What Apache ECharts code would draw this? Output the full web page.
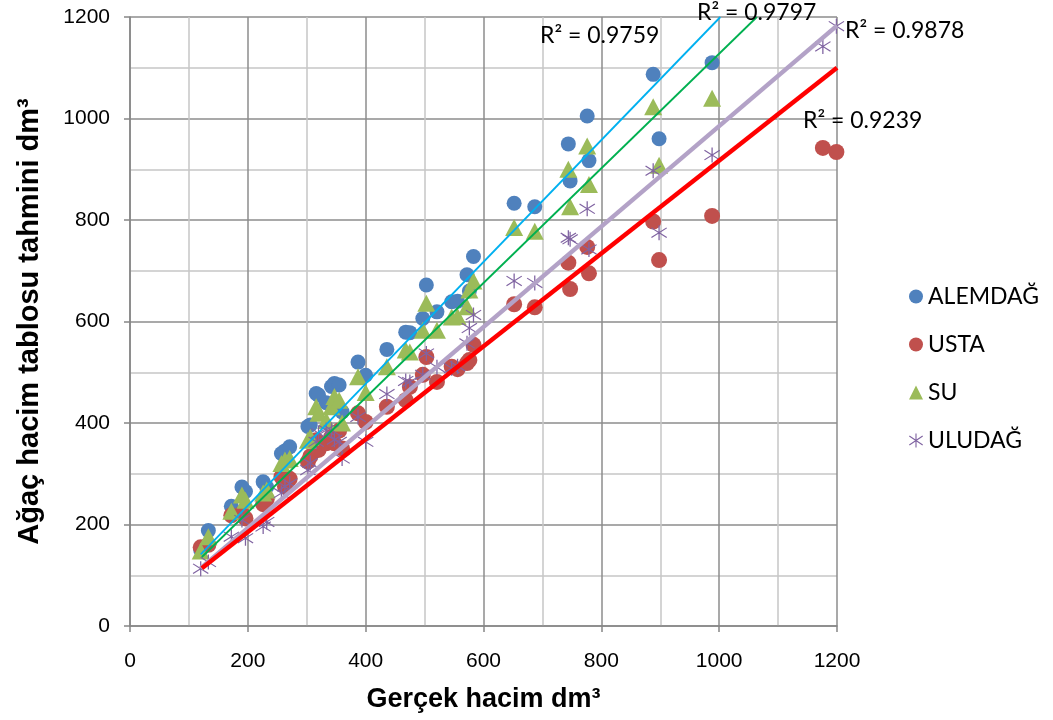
<!DOCTYPE html>
<html>
<head>
<meta charset="utf-8">
<script src="https://cdn.jsdelivr.net/npm/echarts@6/dist/echarts.min.js"></script>
<style>
html,body{margin:0;padding:0;background:#fff;}
#chart{width:1053px;height:720px;}
</style>
</head>
<body>
<div id="chart"></div>
<script>
// Gerçek hacim (x) for each tree, shared by all four volume tables
const trees = [120,133,172,190,196,226,232,257,263,271,302,306,316,320,333,342,347,355,360,387,400,436,468,475,497,503,521,546,556,572,576,583,652,687,744,747,776,779,888,898,988,1176,1199];
const alemdag = [150,188,236,274,265,284,274,340,345,353,393,396,458,455,440,472,478,475,422,520,494,545,579,578,606,672,619,639,640,692,660,728,833,826,950,877,1005,917,1087,960,1110,null,null];
const usta    = [155,160,218,222,212,240,250,294,275,290,324,334,366,347,360,373,360,385,350,419,402,432,445,471,495,530,481,511,506,518,524,554,634,628,716,664,747,695,797,721,808,942,934];
const su      = [148,176,226,258,248,262,268,320,327,330,366,372,432,419,405,432,452,445,400,491,460,511,544,540,583,636,583,609,610,629,662,680,785,778,900,826,946,870,1023,908,1040,null,null];
const uludag  = [113,126,176,209,173,196,205,262,275,281,307,321,363,380,386,386,367,363,330,412,363,457,483,481,495,537,510,508,512,557,587,613,680,676,765,762,822,742,897,775,928,1142,1182];
// trendline end points
const trendAlemdag = [[120,141],[1002,1200]];
const trendSu      = [[122,136],[1064,1200]];
const trendUludag  = [[120,114],[1200,1183]];
const trendUsta    = [[122,114],[1200,1100]];
const r2Labels = ['R² = 0.9759','R² = 0.9797','R² = 0.9878','R² = 0.9239'];
const xTicks = [0,200,400,600,800,1000,1200];

const pairs = ys => trees.map((x,i)=> ys[i]==null ? null : [x, ys[i]]).filter(p=>p);
const starPath = 'path://M9.2 0 H10.8 V20 H9.2 Z M0 4.2 L0.9 3 L20 15.8 L19.1 17 Z M19.1 3 L20 4.2 L0.9 17 L0 15.8 Z';

const chart = echarts.init(document.getElementById('chart'));
const axisCol = '#868686';
const font = 'Liberation Sans, Arial, sans-serif';
const lblFont = 'Lato, Noto Sans, sans-serif';
const plain = v => String(v);
chart.setOption({
  animation:false,
  backgroundColor:'#fff',
  grid:{left:130, top:17, width:707, height:609},
  xAxis:{
    type:'value', min:xTicks[0], max:xTicks[xTicks.length-1], interval:200,
    name:'Gerçek hacim dm³', nameLocation:'middle', nameGap:60,
    nameTextStyle:{fontFamily:font, fontSize:27, fontWeight:'bold', color:'#000'},
    axisLine:{lineStyle:{color:axisCol, width:1.5}},
    axisTick:{show:true, length:6, lineStyle:{color:axisCol, width:1.5}},
    axisLabel:{fontFamily:font, fontSize:21, color:'#000', margin:25, formatter:plain},
    splitLine:{show:true, lineStyle:{color:'#8c8c8c', width:1.5}},
    minorTick:{show:false, splitNumber:2},
    minorSplitLine:{show:true, lineStyle:{color:'#c6c6c6', width:1.5}}
  },
  yAxis:{
    type:'value', min:0, max:1200, interval:200,
    name:'Ağaç hacim tablosu tahmini dm³', nameLocation:'middle', nameGap:86,
    nameTextStyle:{fontFamily:font, fontSize:29, fontWeight:'bold', color:'#000'},
    axisLine:{show:true, lineStyle:{color:axisCol, width:1.5}},
    axisTick:{show:true, length:6, lineStyle:{color:axisCol, width:1.5}},
    axisLabel:{fontFamily:font, fontSize:21, color:'#000', margin:20, formatter:plain},
    splitLine:{show:true, lineStyle:{color:'#8c8c8c', width:1.5}},
    minorTick:{show:false, splitNumber:2},
    minorSplitLine:{show:true, lineStyle:{color:'#c6c6c6', width:1.5}}
  },
  legend:{
    orient:'vertical', left:904, top:280, itemWidth:14, itemHeight:14, itemGap:25,
    textStyle:{fontFamily:lblFont, fontSize:23, color:'#000'},
    data:[
      {name:'ALEMDAĞ', icon:'circle'},
      {name:'USTA', icon:'circle'},
      {name:'SU', icon:'triangle'},
      {name:'ULUDAĞ', icon:starPath}
    ]
  },
  series:[
    {name:'ALEMDAĞ', type:'scatter', data:pairs(alemdag), symbol:'circle', symbolSize:15, itemStyle:{color:'#4F81BD', opacity:1}},
    {name:'USTA', type:'scatter', data:pairs(usta), symbol:'circle', symbolSize:16, itemStyle:{color:'#C0504D', opacity:1}},
    {name:'SU', type:'scatter', data:pairs(su), symbol:'triangle', symbolSize:[18,17], itemStyle:{color:'#9BBB59', opacity:1}},
    {name:'ULUDAĞ', type:'scatter', data:pairs(uludag), symbol:starPath, symbolSize:[16,15], itemStyle:{color:'#8064A2', opacity:1}},
    {type:'line', data:trendAlemdag, showSymbol:false, symbol:'none', lineStyle:{color:'#00B0F0', width:1.8}, z:5, silent:true},
    {type:'line', data:trendSu, showSymbol:false, symbol:'none', lineStyle:{color:'#00B050', width:1.8}, z:5, silent:true},
    {type:'line', data:trendUludag, showSymbol:false, symbol:'none', lineStyle:{color:'#B3A2C7', width:4.5}, z:5, silent:true},
    {type:'line', data:trendUsta, showSymbol:false, symbol:'none', lineStyle:{color:'#FF0000', width:4.5}, z:5, silent:true}
  ],
  graphic:[
    {type:'text', left:540, top:24, style:{text:r2Labels[0], font:'23px '+lblFont, fill:'#000'}, z:10},
    {type:'text', left:697, top:1, style:{text:r2Labels[1], font:'23px '+lblFont, fill:'#000'}, z:10},
    {type:'text', left:845, top:19, style:{text:r2Labels[2], font:'23px '+lblFont, fill:'#000'}, z:10},
    {type:'text', left:803, top:109, style:{text:r2Labels[3], font:'23px '+lblFont, fill:'#000'}, z:10}
  ]
});
</script>
</body>
</html>
